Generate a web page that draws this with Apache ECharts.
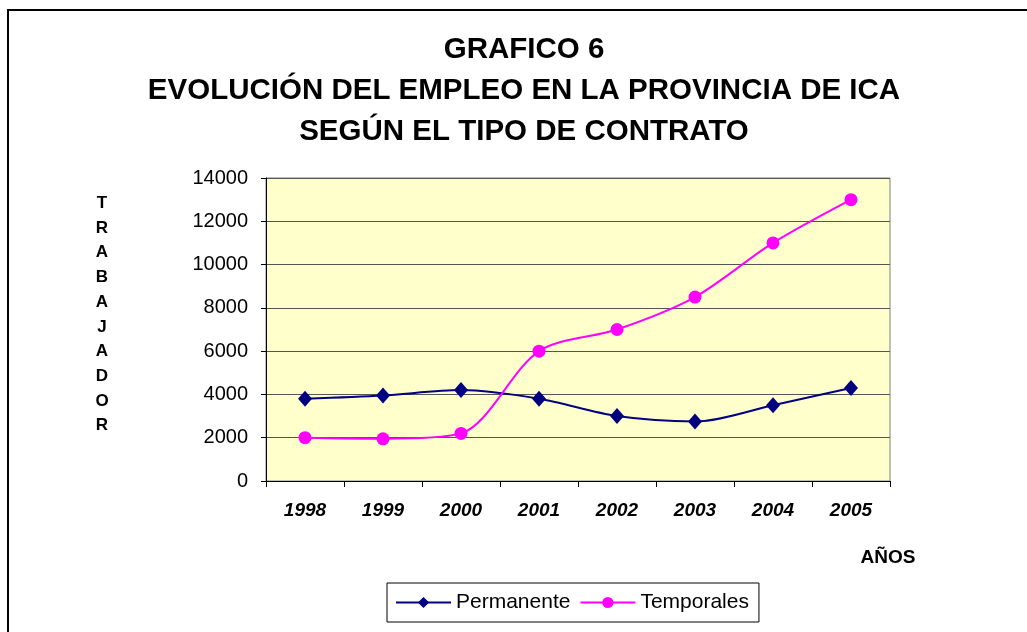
<!DOCTYPE html>
<html>
<head>
<meta charset="utf-8">
<script src="https://cdn.jsdelivr.net/npm/echarts@6/dist/echarts.min.js"></script>
<style>
html, body { margin: 0; padding: 0; background: #fff; }
#main { width: 1027px; height: 632px; }
</style>
</head>
<body>
<div id="main"></div>
<script>
var chartDom = document.getElementById('main');
var myChart = echarts.init(chartDom);

// datos
var years = ['1998', '1999', '2000', '2001', '2002', '2003', '2004', '2005'];
var permanente = [3800, 3950, 4200, 3800, 3000, 2750, 3500, 4300];
var temporales = [2000, 1950, 2200, 6000, 7000, 8500, 11000, 13000];
var yTicks = [0, 2000, 4000, 6000, 8000, 10000, 12000, 14000];

var font = 'Liberation Sans, Arial, sans-serif';

var option = {
    animation: false,
    backgroundColor: '#fff',
    title: [{
        text: 'GRAFICO 6\nEVOLUCIÓN DEL EMPLEO EN LA PROVINCIA DE ICA\nSEGÚN EL TIPO DE CONTRATO',
        left: 519,
        top: 24,
        textAlign: 'center',
        textStyle: { fontFamily: font, fontSize: 29.5, fontWeight: 'bold', color: '#000', lineHeight: 41 }
    }, {
        text: 'TRABAJADOR'.split('').join('\n'),
        left: 97,
        top: 186,
        textAlign: 'center',
        textStyle: { fontFamily: font, fontSize: 17, fontWeight: 'bold', color: '#000', lineHeight: 24.7 }
    }, {
        text: 'AÑOS',
        left: 883,
        top: 543,
        textAlign: 'center',
        textStyle: { fontFamily: font, fontSize: 19, fontWeight: 'bold', color: '#000' }
    }],
    graphic: [{
        type: 'rect',
        shape: { x: 8, y: 10, width: 1040, height: 650 },
        style: { fill: null, stroke: '#000', lineWidth: 2 },
        z: 100
    }],
    legend: {
        left: 387,
        top: 583,
        padding: [9, 10, 9, 8],
        borderColor: '#000',
        borderWidth: 1,
        itemWidth: 55,
        itemHeight: 14,
        itemGap: 9,
        textStyle: { fontFamily: font, fontSize: 21, color: '#000' },
        data: ['Permanente', 'Temporales']
    },
    grid: {
        left: 266,
        right: 137,
        top: 178,
        bottom: 151,
        show: true,
        backgroundColor: '#FFFFCC',
        borderColor: '#808080',
        borderWidth: 1
    },
    xAxis: {
        type: 'category',
        data: years,
        boundaryGap: true,
        axisLine: { lineStyle: { color: '#000', width: 1 } },
        axisTick: { show: true, length: 6, lineStyle: { color: '#000' } },
        axisLabel: {
            margin: 20,
            fontFamily: font, fontSize: 19, fontWeight: 'bold', fontStyle: 'italic', color: '#000'
        }
    },
    yAxis: {
        type: 'value',
        min: yTicks[0],
        max: yTicks[yTicks.length - 1],
        interval: 2000,
        axisLine: { show: true, lineStyle: { color: '#000', width: 1 } },
        axisTick: { show: true, length: 5, lineStyle: { color: '#000' } },
        axisLabel: {
            margin: 18, fontFamily: font, fontSize: 20, color: '#000',
            formatter: function (v) { return String(v); }
        },
        splitLine: { show: true, lineStyle: { color: '#555', width: 1 } }
    },
    series: [{
        name: 'Permanente',
        type: 'line',
        data: permanente,
        smooth: 0.3,
        symbol: 'diamond',
        symbolSize: [14, 16],
        lineStyle: { color: '#000080', width: 2 },
        itemStyle: { color: '#000080' }
    }, {
        name: 'Temporales',
        type: 'line',
        data: temporales,
        smooth: 0.3,
        symbol: 'circle',
        symbolSize: 13,
        lineStyle: { color: '#FF00FF', width: 2 },
        itemStyle: { color: '#FF00FF' }
    }]
};

option && myChart.setOption(option);
</script>
</body>
</html>
